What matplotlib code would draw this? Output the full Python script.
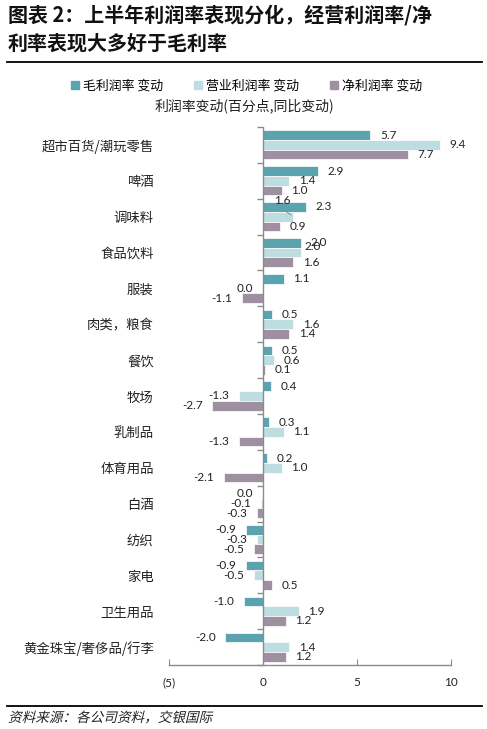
import numpy as np
import matplotlib
matplotlib.use("Agg")
import matplotlib.pyplot as plt
from matplotlib.textpath import TextPath
from matplotlib.patches import PathPatch
from matplotlib.font_manager import FontProperties
from matplotlib.transforms import Affine2D
from matplotlib.lines import Line2D

plt.rcParams['font.family'] = ['Noto Sans CJK SC', 'DejaVu Sans']

# data
categories = ["超市百货/潮玩零售", "啤酒", "调味料", "食品饮料", "服装", "肉类，粮食", "餐饮",
              "牧场", "乳制品", "体育用品", "白酒", "纺织", "家电", "卫生用品", "黄金珠宝/奢侈品/行李"]
gross = [5.7, 2.9, 2.3, 2.0, 1.1, 0.5, 0.5, 0.4, 0.3, 0.2, 0.0, -0.9, -0.9, -1.0, -2.0]
operating = [9.4, 1.4, 1.6, 2.0, 0.0, 1.6, 0.6, -1.3, 1.1, 1.0, -0.1, -0.3, -0.5, 1.9, 1.4]
net = [7.7, 1.0, 0.9, 1.6, -1.1, 1.4, 0.1, -2.7, -1.3, -2.1, -0.3, -0.5, 0.5, 1.2, 1.2]
series_names = ["毛利润率 变动", "营业利润率 变动", "净利润率 变动"]
xticks = [-5, 0, 5, 10]
xticklabels = ["(5)", "0", "5", "10"]

colors = ["#5BA3AE", "#BEDDE1", "#9E90A0"]
axis_grey = "#8C8C8C"
num_font = ["Lato", "DejaVu Sans"]

fig = plt.figure(figsize=(4.87, 7.29), dpi=100)
ax = fig.add_axes([169 / 487, 1 - 665 / 729, (451 - 169) / 487, (665 - 127) / 729])

y = np.arange(len(categories))
h = 0.27
all_series = [gross, operating, net]
# label nudges in points for labels Excel moved to avoid overlap
nudges = {(2, 1): (-21, 12), (3, 1): (-4, 4)}

for s, (vals, col) in enumerate(zip(all_series, colors)):
    ypos = y + (s - 1) * h
    ax.barh(ypos, vals, height=h, color=col, edgecolor="white", linewidth=0.5, zorder=2)
    for i, v in enumerate(vals):
        dx, dy = nudges.get((i, s), (0, 0))
        if v > 0:
            off, ha = 7, "left"
        else:
            off, ha = -7, "right"
        ax.annotate(f"{v:.1f}", xy=(v, ypos[i]), xytext=(off + dx, dy), textcoords="offset points",
                    ha=ha, va="center", fontsize=8.5, family=num_font, color="#222222", zorder=4)
        if (i, s) == (2, 1):
            ax.annotate("", xy=(v, ypos[i]), xytext=(v - 0.55, ypos[i] - 0.22),
                        arrowprops=dict(arrowstyle="-", color="#888888", lw=0.7))

ax.set_xlim(-5, 10)
ax.set_ylim(len(categories) - 0.5, -0.5)

# zero line with category boundary ticks
ax.axvline(0, color=axis_grey, lw=1, zorder=3)
ax.plot(np.zeros(len(categories) + 1), np.arange(len(categories) + 1) - 0.5, ls="none",
        marker=0, ms=4, mew=1, color=axis_grey, zorder=3, clip_on=False)

for sp in ["top", "right", "left"]:
    ax.spines[sp].set_visible(False)
ax.spines["bottom"].set_color(axis_grey)
ax.spines["bottom"].set_linewidth(1)

ax.set_yticks(y)
ax.set_yticklabels(categories, fontsize=9.6, color="#222222")
ax.tick_params(axis="y", length=0, pad=11)
ax.set_xticks(xticks)
ax.set_xticklabels(xticklabels, fontsize=8.5, family=num_font, color="#222222")
ax.tick_params(axis="x", direction="in", length=4, color=axis_grey, pad=9)

# legend and axis title
handles = [Line2D([], [], ls="none", marker="s", ms=6, mec=c, mfc=c) for c in colors]
fig.legend(handles, series_names, loc="center", bbox_to_anchor=(246 / 487, 1 - 86 / 729), ncol=3,
           frameon=False, fontsize=9.3, handletextpad=0.2, columnspacing=2.3, handlelength=0.8)
fig.text(244 / 487, 1 - 106 / 729, "利润率变动(百分点,同比变动)", ha="center", va="center",
         fontsize=10, color="#222222")

# title
fig.text(8 / 487, 1 - 15 / 729, "图表 2：上半年利润率表现分化，经营利润率/净", ha="left", va="center",
         fontsize=14.4, weight="bold", color="#111111")
fig.text(8 / 487, 1 - 43 / 729, "利率表现大多好于毛利率", ha="left", va="center",
         fontsize=14.4, weight="bold", color="#111111")
fig.add_artist(Line2D([7 / 487, 482 / 487], [1 - 62 / 729, 1 - 62 / 729], color="black", lw=1.3))
fig.add_artist(Line2D([7 / 487, 482 / 487], [1 - 706 / 729, 1 - 706 / 729], color="black", lw=1.3))

# italic source note via skewed text path
tp = TextPath((0, 0), "资料来源：各公司资料，交银国际", size=9.8,
              prop=FontProperties(family="Noto Sans CJK SC"))
tr = Affine2D().skew_deg(14, 0).scale(1 / 72).translate(8 / 100, (729 - 722) / 100) + fig.dpi_scale_trans
fig.add_artist(PathPatch(tp, transform=tr, color="#222222", lw=0))

fig.savefig("out.png", dpi=100)
